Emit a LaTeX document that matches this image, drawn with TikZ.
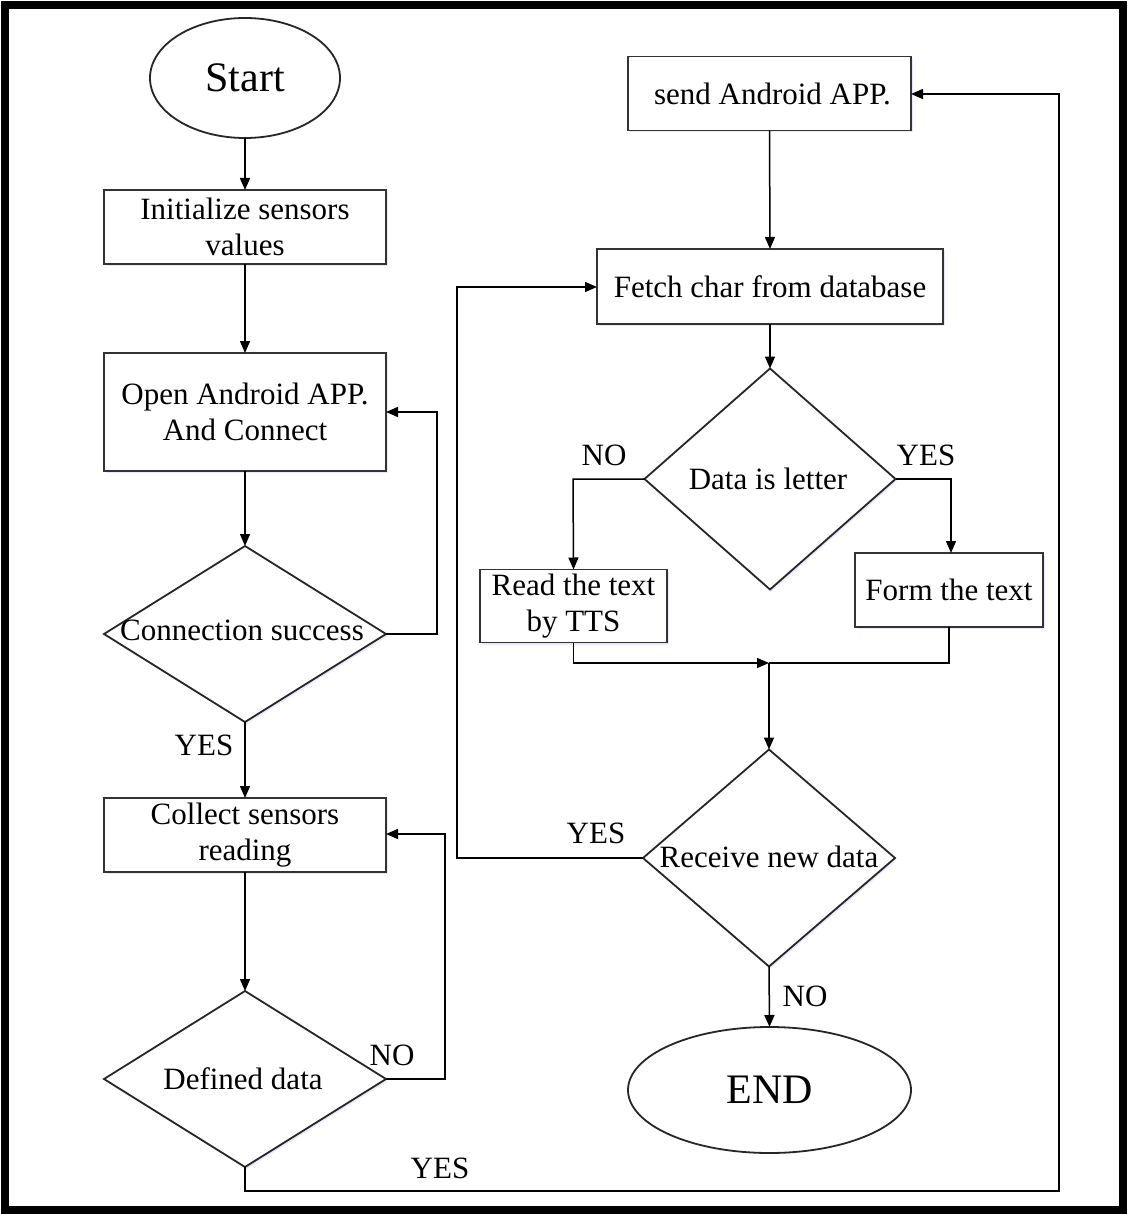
\documentclass[tikz,border=0pt]{standalone}
\usepackage{fontspec}
\setmainfont{Liberation Serif}
\usetikzlibrary{shapes.geometric,arrows.meta,shadows}
\begin{document}
\begin{tikzpicture}[x=1pt,y=-1pt,
  every node/.style={font=\fontsize{31}{36}\selectfont, inner sep=0pt, outer sep=0pt},
  procbox/.style={draw=black!80, line width=1.8pt, fill=white, rectangle, align=center,
     drop shadow={shadow xshift=1.5pt, shadow yshift=-2pt, fill=blue!25, opacity=0.35}},
  decbox/.style={draw=black!85, line width=1.8pt, fill=white, diamond,
     drop shadow={shadow xshift=1.5pt, shadow yshift=-2pt, fill=blue!25, opacity=0.35}},
  termbox/.style={draw=black!85, line width=1.8pt, fill=white, ellipse,
     font=\fontsize{42}{46}\selectfont},
  conn/.style={draw=black, line width=1.5pt},
  arr/.style={conn, -{Triangle[length=12pt,width=10pt]}},
  lbl/.style={font=\fontsize{31}{34}\selectfont}
]
\useasboundingbox (0,0) rectangle (1128,1214);
\fill[white] (0,0) rectangle (1128,1214);
\draw[line width=8pt] (5,5) rectangle (1123,1210);

% left column
\node[termbox, minimum width=190, minimum height=120] (start) at (245,78) {Start};
\node[procbox, minimum width=282, minimum height=74] (init) at (245,227) {Initialize sensors\\values};
\node[procbox, minimum width=282, minimum height=118] (open) at (245,412) {Open Android APP.\\And Connect};
\node[decbox, minimum width=282, minimum height=176] (cs) at (245,634) {};
\node (cstext) at (242,630) {Connection success};
\node[procbox, minimum width=282, minimum height=74] (collect) at (245,835) {Collect sensors\\reading};
\node[decbox, minimum width=282, minimum height=176] (def) at (245,1079) {};
\node (deftext) at (243,1079) {Defined data};

% right column
\node[procbox, minimum width=283, minimum height=74] (send) at (769.5,93.5) {\hspace*{6pt}send Android APP.};
\node[procbox, minimum width=346, minimum height=75] (fetch) at (770,286.5) {Fetch char from database};
\node[decbox, minimum width=251, minimum height=221] (letter) at (770,479) {};
\node (lettertext) at (768,479) {Data is letter};
\node[procbox, minimum width=187, minimum height=73] (read) at (573.5,606) {Read the text\\by TTS};
\node[procbox, minimum width=188, minimum height=74] (form) at (949,590) {Form the text};
\node[decbox, minimum width=252, minimum height=217] (recv) at (769,858) {};
\node (recvtext) at (769,857) {Receive new data};
\node[termbox, minimum width=283, minimum height=126] (end) at (769.5,1090) {END};

\coordinate (merge) at (769,663);

% left connectors
\draw[arr] (start.south) -- (init.north);
\draw[arr] (init.south) -- (open.north);
\draw[arr] (open.south) -- (cs.north);
\draw[arr] (cs.east) -- (437,634) |- (open.east |- 0,412);
\draw[arr] (cs.south) -- (collect.north);
\node[lbl] (yes1) at (204,745) {YES};
\draw[arr] (collect.south) -- (def.north);
\draw[arr] (def.east) -- (445,1079) |- (collect.east |- 0,834);
\node[lbl] (no1) at (392,1055) {NO};
\draw[arr] (def.south) -- (245,1191) -- (1059,1191) |- (send.east |- 0,94);
\node[lbl] (yes2) at (440,1168) {YES};

% right connectors
\draw[arr] (send.south) -- (fetch.north);
\draw[arr] (fetch.south) -- (letter.north);
\draw[arr] (letter.west) -- (573,479) -- (read.north);
\node[lbl] (no2) at (604,455) {NO};
\draw[arr] (letter.east) -- (951,479) -- (form.north -| 951,0);
\node[lbl] (yes3) at (926,455) {YES};
\draw[arr] (read.south) |- (merge);
\draw[conn] (form.south) |- (merge);
\draw[arr] (merge) -- (recv.north);
\draw[arr] (recv.west) -- (457,858) |- (fetch.west |- 0,287);
\node[lbl] (yes4) at (596,833) {YES};
\draw[arr] (recv.south) -- (end.north);
\node[lbl] (no3) at (805,996) {NO};
\end{tikzpicture}
\end{document}
